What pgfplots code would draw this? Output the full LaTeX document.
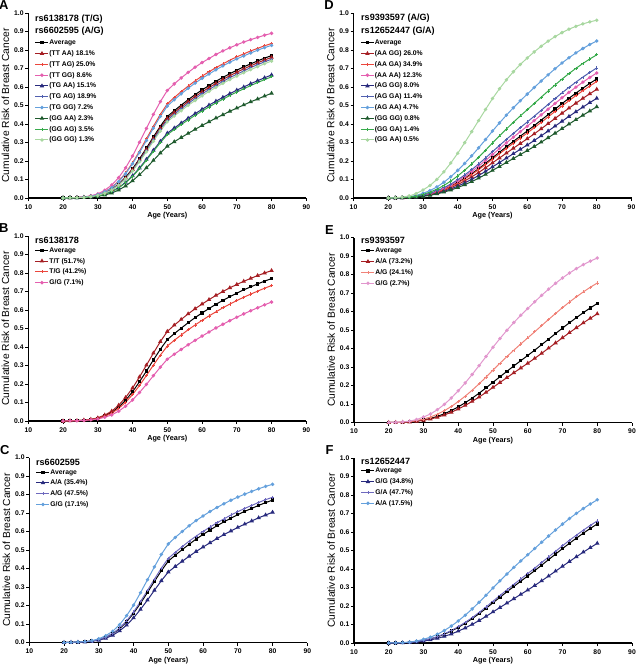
\documentclass[border=0pt]{standalone}
\usepackage{fontspec}
\setmainfont{Liberation Sans}
\usepackage{pgfplots}
\usepackage{pgfplotstable}
\pgfplotsset{compat=1.18}

\definecolor{dred}{RGB}{165,30,35}
\definecolor{red1}{RGB}{235,70,60}
\definecolor{pink1}{RGB}{228,95,175}
\definecolor{navy}{RGB}{40,42,125}
\definecolor{blue1}{RGB}{80,95,175}
\definecolor{lblue}{RGB}{100,160,220}
\definecolor{dgreen}{RGB}{30,90,45}
\definecolor{green1}{RGB}{55,170,75}
\definecolor{lgreen}{RGB}{168,215,160}
\definecolor{salmon}{RGB}{240,130,120}
\definecolor{lpink}{RGB}{225,150,205}
\definecolor{lav}{RGB}{110,105,190}

\pgfplotstableread{
age avg a567 a701 a724 a744 a828 a896 a916 a943 a970 a1046 a1141 a1186 a1225 a1314 a1500
20 0 0 0 0 0 0 0 0 0 0 0 0 0 0 0 0
22 0.001 0.001 0.001 0.001 0.001 0.001 0.001 0.001 0.001 0.001 0.001 0.001 0.001 0.001 0.001 0.001
24 0.002 0.001 0.001 0.001 0.001 0.002 0.002 0.002 0.002 0.002 0.002 0.002 0.002 0.002 0.003 0.003
26 0.004 0.002 0.003 0.003 0.003 0.003 0.004 0.004 0.004 0.004 0.004 0.005 0.005 0.005 0.005 0.006
28 0.008 0.005 0.006 0.006 0.006 0.007 0.007 0.007 0.008 0.008 0.008 0.009 0.009 0.010 0.010 0.012
30 0.015 0.009 0.011 0.011 0.011 0.012 0.013 0.014 0.014 0.015 0.016 0.017 0.018 0.018 0.020 0.022
32 0.028 0.016 0.020 0.020 0.021 0.023 0.025 0.026 0.026 0.027 0.029 0.032 0.033 0.034 0.037 0.042
34 0.047 0.027 0.033 0.034 0.035 0.039 0.042 0.043 0.044 0.046 0.049 0.053 0.055 0.057 0.061 0.070
36 0.075 0.043 0.053 0.055 0.056 0.063 0.068 0.069 0.071 0.073 0.078 0.085 0.088 0.091 0.097 0.110
38 0.112 0.065 0.080 0.082 0.085 0.094 0.101 0.103 0.106 0.109 0.117 0.127 0.131 0.135 0.145 0.163
40 0.158 0.093 0.114 0.117 0.120 0.133 0.143 0.146 0.150 0.154 0.165 0.178 0.185 0.190 0.202 0.227
42 0.212 0.126 0.154 0.158 0.162 0.179 0.192 0.196 0.201 0.206 0.221 0.238 0.246 0.253 0.269 0.301
44 0.270 0.163 0.198 0.204 0.209 0.229 0.246 0.250 0.257 0.263 0.281 0.302 0.311 0.320 0.339 0.376
46 0.330 0.203 0.245 0.252 0.258 0.282 0.302 0.307 0.315 0.322 0.342 0.367 0.378 0.388 0.409 0.452
48 0.388 0.243 0.291 0.299 0.306 0.334 0.356 0.362 0.371 0.379 0.402 0.429 0.441 0.452 0.476 0.521
50 0.440 0.280 0.334 0.343 0.350 0.381 0.405 0.412 0.421 0.430 0.455 0.484 0.497 0.509 0.533 0.581
52 0.472 0.304 0.361 0.370 0.378 0.411 0.436 0.443 0.453 0.462 0.487 0.518 0.531 0.543 0.568 0.617
54 0.502 0.327 0.387 0.397 0.405 0.439 0.465 0.472 0.482 0.492 0.518 0.549 0.563 0.575 0.600 0.649
56 0.531 0.349 0.412 0.422 0.431 0.466 0.493 0.501 0.511 0.521 0.548 0.579 0.593 0.605 0.631 0.679
58 0.559 0.371 0.436 0.447 0.456 0.492 0.519 0.527 0.538 0.548 0.575 0.607 0.621 0.633 0.659 0.707
60 0.584 0.392 0.459 0.470 0.479 0.516 0.544 0.552 0.563 0.573 0.600 0.632 0.647 0.659 0.684 0.732
62 0.608 0.412 0.481 0.492 0.502 0.539 0.568 0.576 0.586 0.597 0.624 0.656 0.670 0.682 0.708 0.754
64 0.631 0.432 0.503 0.514 0.523 0.562 0.590 0.598 0.609 0.619 0.647 0.679 0.693 0.705 0.730 0.776
66 0.652 0.450 0.523 0.534 0.544 0.583 0.612 0.620 0.630 0.641 0.668 0.700 0.714 0.725 0.750 0.795
68 0.672 0.469 0.542 0.554 0.564 0.603 0.632 0.640 0.651 0.661 0.689 0.720 0.734 0.745 0.769 0.812
70 0.691 0.486 0.561 0.573 0.583 0.622 0.651 0.659 0.669 0.680 0.707 0.738 0.752 0.763 0.786 0.828
72 0.709 0.503 0.579 0.590 0.600 0.640 0.669 0.677 0.687 0.698 0.725 0.755 0.768 0.779 0.802 0.843
74 0.725 0.520 0.596 0.608 0.618 0.657 0.686 0.694 0.705 0.715 0.741 0.771 0.784 0.795 0.817 0.856
76 0.741 0.535 0.612 0.624 0.634 0.674 0.702 0.710 0.721 0.731 0.757 0.786 0.799 0.809 0.831 0.868
78 0.756 0.551 0.628 0.640 0.650 0.689 0.718 0.726 0.736 0.746 0.772 0.800 0.813 0.823 0.844 0.880
80 0.770 0.566 0.643 0.655 0.665 0.704 0.732 0.740 0.750 0.760 0.785 0.813 0.825 0.835 0.855 0.890
}\tAC

\pgfplotstableread{
age avg d658 d750 d858 d963 d1045 d1092 d1176 d1359 d1441 d1832 d2130 d3143
20 0 0 0 0 0 0 0 0 0 0 0 0 0
22 0.0005 0.0003 0.0004 0.0004 0.0005 0.0005 0.0005 0.0006 0.0007 0.0007 0.0009 0.0011 0.0016
24 0.0015 0.0010 0.0011 0.0013 0.0014 0.0016 0.0016 0.0018 0.0020 0.0022 0.0027 0.0032 0.0047
26 0.0035 0.0023 0.0026 0.0030 0.0034 0.0037 0.0038 0.0041 0.0048 0.0050 0.0064 0.0075 0.0109
28 0.0075 0.0049 0.0056 0.0064 0.0072 0.0078 0.0082 0.0088 0.0102 0.0108 0.0136 0.0158 0.0233
30 0.0139 0.0092 0.0104 0.0119 0.0134 0.0145 0.0152 0.0164 0.0188 0.0200 0.0253 0.0294 0.0431
32 0.0220 0.0145 0.0166 0.0188 0.0212 0.0229 0.0239 0.0258 0.0297 0.0315 0.0399 0.0462 0.0674
34 0.0331 0.0220 0.0250 0.0285 0.0320 0.0346 0.0361 0.0388 0.0448 0.0474 0.0598 0.0693 0.1005
36 0.0473 0.0314 0.0357 0.0407 0.0456 0.0494 0.0516 0.0554 0.0638 0.0675 0.0851 0.0981 0.1414
38 0.0645 0.0430 0.0488 0.0556 0.0622 0.0673 0.0702 0.0754 0.0866 0.0916 0.1150 0.1325 0.1891
40 0.0844 0.0564 0.0640 0.0729 0.0814 0.0881 0.0918 0.0985 0.1130 0.1194 0.1492 0.1713 0.2421
42 0.1069 0.0717 0.0813 0.0924 0.1031 0.1114 0.1161 0.1245 0.1424 0.1502 0.1870 0.2140 0.2990
44 0.1316 0.0886 0.1004 0.1141 0.1271 0.1370 0.1428 0.1529 0.1745 0.1840 0.2278 0.2596 0.3582
46 0.1584 0.1073 0.1214 0.1376 0.1530 0.1650 0.1718 0.1836 0.2090 0.2201 0.2710 0.3075 0.4186
48 0.1872 0.1274 0.1439 0.1629 0.1809 0.1947 0.2025 0.2163 0.2455 0.2581 0.3158 0.3568 0.4786
50 0.2175 0.1490 0.1681 0.1899 0.2104 0.2261 0.2351 0.2506 0.2835 0.2978 0.3620 0.4070 0.5374
52 0.2472 0.1705 0.1918 0.2163 0.2393 0.2567 0.2666 0.2840 0.3202 0.3358 0.4057 0.4539 0.5904
54 0.2767 0.1920 0.2157 0.2427 0.2680 0.2872 0.2981 0.3169 0.3562 0.3730 0.4477 0.4984 0.6388
56 0.3058 0.2136 0.2395 0.2689 0.2964 0.3171 0.3288 0.3490 0.3911 0.4091 0.4877 0.5405 0.6825
58 0.3344 0.2350 0.2631 0.2947 0.3243 0.3464 0.3588 0.3804 0.4248 0.4438 0.5255 0.5797 0.7218
60 0.3624 0.2563 0.2864 0.3204 0.3516 0.3752 0.3883 0.4110 0.4575 0.4772 0.5615 0.6165 0.7569
62 0.3911 0.2784 0.3107 0.3466 0.3797 0.4045 0.4182 0.4420 0.4904 0.5107 0.5970 0.6523 0.7897
64 0.4208 0.3018 0.3360 0.3740 0.4089 0.4348 0.4491 0.4738 0.5239 0.5447 0.6322 0.6875 0.8202
66 0.4507 0.3257 0.3619 0.4018 0.4383 0.4653 0.4800 0.5056 0.5570 0.5782 0.6659 0.7208 0.8478
68 0.4806 0.3501 0.3882 0.4300 0.4679 0.4957 0.5110 0.5371 0.5894 0.6109 0.6988 0.7523 0.8724
70 0.5103 0.3749 0.4147 0.4581 0.4972 0.5258 0.5415 0.5682 0.6210 0.6426 0.7297 0.7815 0.8940
72 0.5392 0.3995 0.4408 0.4857 0.5259 0.5551 0.5710 0.5980 0.6512 0.6727 0.7582 0.8081 0.9125
74 0.5668 0.4234 0.4662 0.5124 0.5534 0.5830 0.5991 0.6263 0.6794 0.7007 0.7842 0.8318 0.9280
76 0.5938 0.4473 0.4913 0.5384 0.5800 0.6100 0.6262 0.6534 0.7061 0.7270 0.8081 0.8533 0.9411
78 0.6194 0.4704 0.5154 0.5634 0.6055 0.6355 0.6517 0.6789 0.7310 0.7514 0.8296 0.8723 0.9520
80 0.6436 0.4929 0.5388 0.5875 0.6298 0.6599 0.6760 0.7029 0.7540 0.7740 0.8490 0.8890 0.9610
}\tDF

\tikzset{
  ttl/.style={anchor=west, inner sep=0pt, font=\fontsize{9.1}{10}\selectfont\bfseries},
  plbl/.style={font=\fontsize{13}{14}\selectfont\bfseries, xshift=-24.5bp, yshift=7.5bp},
}

\pgfplotsset{
  riskaxis/.style={
    scale only axis, width=278bp, height=185bp,
    anchor=south west,
    xmin=10, xmax=90, ymin=0, ymax=1,
    xtick={10,20,30,40,50,60,70,80,90},
    ytick={0,0.1,0.2,0.3,0.4,0.5,0.6,0.7,0.8,0.9,1},
    axis x line*=bottom, axis y line*=left,
    axis line style={-, line width=1.1bp},
    tick align=outside, major tick length=3bp,
    tick style={black, line width=0.9bp},
    /pgf/number format/assume math mode=true,
    tick label style={font=\fontsize{6.8}{8}\selectfont\bfseries},
    yticklabel style={/pgf/number format/fixed, /pgf/number format/fixed zerofill, /pgf/number format/precision=1, inner sep=1.5bp},
    xlabel={Age (Years)},
    xlabel style={at={(axis description cs:0.5,-0.097)}, anchor=center, font=\fontsize{7.3}{8}\selectfont\bfseries},
    ylabel={Cumulative Risk of Breast Cancer},
    ylabel style={at={(axis description cs:-0.082,0.5)}, anchor=center, inner sep=0pt, font=\fontsize{10.3}{12}\selectfont},
    clip=false,
    legend cell align=left,
    legend style={draw=none, fill=none, inner sep=0pt, outer sep=0pt, anchor=north west,
      font=\fontsize{6.8}{7}\selectfont\bfseries,
      nodes={inner sep=0.5bp, text height=5bp, text depth=1bp},
      row sep=3.8bp},
    legend image code/.code={\draw[mark repeat=2,mark phase=2] plot coordinates {(0bp,0bp) (6.5bp,0bp) (13bp,0bp)};},
  },
  sAvg/.style={black, line width=1bp, mark=square*, mark size=1.1bp},
  sTri/.style={line width=1bp, mark=triangle*, mark size=1.6bp},
  sPlus/.style={line width=1bp, mark=+, mark size=1.6bp, mark options={line width=0.7bp}},
  sDot/.style={line width=1bp, mark=*, mark size=1.2bp},
}

\begin{document}
\begin{tikzpicture}
\useasboundingbox (0,0) rectangle (637bp,-666bp);

% ---------- A ----------
\begin{axis}[riskaxis, at={(28.3bp,-198bp)},
  legend style={at={(axis description cs:0.024,0.858)}}]
\addplot[sAvg] table[x=age,y=avg]{\tAC}; \addlegendentry{Average}
\addplot[sTri, color=dred] table[x=age,y=a970]{\tAC}; \addlegendentry{(TT AA) 18.1\%}
\addplot[sPlus, color=red1] table[x=age,y=a1225]{\tAC}; \addlegendentry{(TT AG) 25.0\%}
\addplot[sDot, color=pink1] table[x=age,y=a1500]{\tAC}; \addlegendentry{(TT GG) 8.6\%}
\addplot[sTri, color=navy] table[x=age,y=a744]{\tAC}; \addlegendentry{(TG AA) 15.1\%}
\addplot[sPlus, color=blue1] table[x=age,y=a943]{\tAC}; \addlegendentry{(TG AG) 18.9\%}
\addplot[sDot, color=lblue] table[x=age,y=a1186]{\tAC}; \addlegendentry{(TG GG) 7.2\%}
\addplot[sTri, color=dgreen] table[x=age,y=a567]{\tAC}; \addlegendentry{(GG AA) 2.3\%}
\addplot[sPlus, color=green1] table[x=age,y=a724]{\tAC}; \addlegendentry{(GG AG) 3.5\%}
\addplot[sDot, color=lgreen] table[x=age,y=a916]{\tAC}; \addlegendentry{(GG GG) 1.3\%}
\node[ttl] at (axis description cs:0.024,0.968) {rs6138178 (T/G)};
\node[ttl] at (axis description cs:0.024,0.900) {rs6602595 (A/G)};
\node[plbl] at (axis description cs:0,1) {A};
\end{axis}

% ---------- B ----------
\begin{axis}[riskaxis, at={(28.3bp,-421bp)},
  legend style={at={(axis description cs:0.024,0.942)}}]
\addplot[sAvg] table[x=age,y=avg]{\tAC}; \addlegendentry{Average}
\addplot[sTri, color=dred] table[x=age,y=a1141]{\tAC}; \addlegendentry{T/T (51.7\%)}
\addplot[sPlus, color=red1] table[x=age,y=a896]{\tAC}; \addlegendentry{T/G (41.2\%)}
\addplot[sDot, color=pink1] table[x=age,y=a701]{\tAC}; \addlegendentry{G/G (7.1\%)}
\node[ttl] at (axis description cs:0.024,0.975) {rs6138178};
\node[plbl] at (axis description cs:0,1) {B};
\end{axis}

% ---------- C ----------
\begin{axis}[riskaxis, at={(29.3bp,-642.5bp)},
  legend style={at={(axis description cs:0.024,0.940)}}]
\addplot[sAvg] table[x=age,y=avg]{\tAC}; \addlegendentry{Average}
\addplot[sTri, color=navy] table[x=age,y=a828]{\tAC}; \addlegendentry{A/A (35.4\%)}
\addplot[sPlus, color=lav] table[x=age,y=a1046]{\tAC}; \addlegendentry{A/G (47.5\%)}
\addplot[sDot, color=lblue] table[x=age,y=a1314]{\tAC}; \addlegendentry{G/G (17.1\%)}
\node[ttl] at (axis description cs:0.024,0.972) {rs6602595};
\node[plbl] at (axis description cs:0,1) {C};
\end{axis}

% ---------- D ----------
\begin{axis}[riskaxis, at={(353.5bp,-198bp)},
  legend style={at={(axis description cs:0.025,0.858)}}]
\addplot[sAvg] table[x=age,y=avg]{\tDF}; \addlegendentry{Average}
\addplot[sTri, color=dred] table[x=age,y=d858]{\tDF}; \addlegendentry{(AA GG) 26.0\%}
\addplot[sPlus, color=red1] table[x=age,y=d963]{\tDF}; \addlegendentry{(AA GA) 34.9\%}
\addplot[sDot, color=pink1] table[x=age,y=d1092]{\tDF}; \addlegendentry{(AA AA) 12.3\%}
\addplot[sTri, color=navy] table[x=age,y=d750]{\tDF}; \addlegendentry{(AG GG) 8.0\%}
\addplot[sPlus, color=blue1] table[x=age,y=d1176]{\tDF}; \addlegendentry{(AG GA) 11.4\%}
\addplot[sDot, color=lblue] table[x=age,y=d1832]{\tDF}; \addlegendentry{(AG AA) 4.7\%}
\addplot[sTri, color=dgreen] table[x=age,y=d658]{\tDF}; \addlegendentry{(GG GG) 0.8\%}
\addplot[sPlus, color=green1] table[x=age,y=d1441]{\tDF}; \addlegendentry{(GG GA) 1.4\%}
\addplot[sDot, color=lgreen] table[x=age,y=d3143]{\tDF}; \addlegendentry{(GG AA) 0.5\%}
\node[ttl] at (axis description cs:0.027,0.970) {rs9393597 (A/G)};
\node[ttl] at (axis description cs:0.027,0.902) {rs12652447 (G/A)};
\node[plbl] at (axis description cs:0,1) {D};
\end{axis}

% ---------- E ----------
\begin{axis}[riskaxis, at={(354bp,-422.5bp)},
  legend style={at={(axis description cs:0.025,0.947)}}]
\addplot[sAvg] table[x=age,y=avg]{\tDF}; \addlegendentry{Average}
\addplot[sTri, color=dred] table[x=age,y=d858]{\tDF}; \addlegendentry{A/A (73.2\%)}
\addplot[sPlus, color=salmon] table[x=age,y=d1359]{\tDF}; \addlegendentry{A/G (24.1\%)}
\addplot[sDot, color=lpink] table[x=age,y=d2130]{\tDF}; \addlegendentry{G/G (2.7\%)}
\node[ttl] at (axis description cs:0.025,0.985) {rs9393597};
\node[plbl] at (axis description cs:0,1) {E};
\end{axis}

% ---------- F ----------
\begin{axis}[riskaxis, at={(354bp,-643bp)},
  legend style={at={(axis description cs:0.025,0.949)}}]
\addplot[sAvg] table[x=age,y=avg]{\tDF}; \addlegendentry{Average}
\addplot[sTri, color=navy] table[x=age,y=d750]{\tDF}; \addlegendentry{G/G (34.8\%)}
\addplot[sPlus, color=lav] table[x=age,y=d1045]{\tDF}; \addlegendentry{G/A (47.7\%)}
\addplot[sDot, color=lblue] table[x=age,y=d1441]{\tDF}; \addlegendentry{A/A (17.5\%)}
\node[ttl] at (axis description cs:0.025,0.983) {rs12652447};
\node[plbl] at (axis description cs:0,1) {F};
\end{axis}
\end{tikzpicture}
\end{document}
